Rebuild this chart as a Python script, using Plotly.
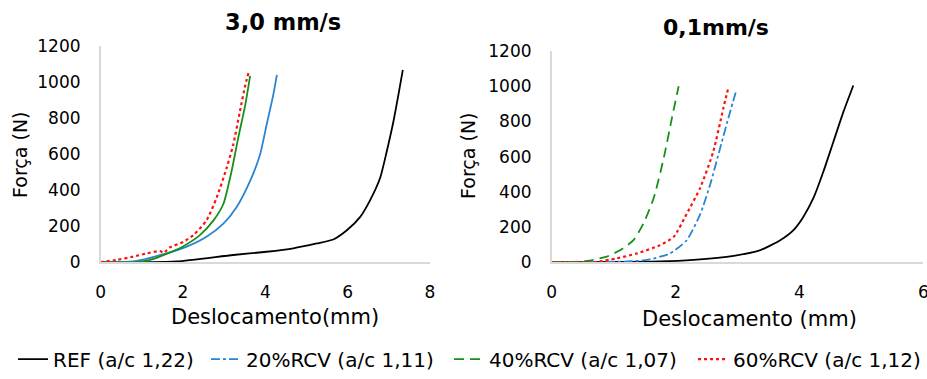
import plotly.graph_objects as go

# ---- data: left panel (3,0 mm/s) ----
ref_a_x = [0, 1.0, 1.85, 3.22, 4.03, 4.68, 5.25, 5.65, 5.98, 6.30, 6.54, 6.79, 6.95, 7.11, 7.23, 7.34]
ref_a_y = [0, 0, 4, 40, 58, 77, 104, 126, 177, 250, 342, 469, 616, 780, 926, 1068]
r20_a_x = [0, 0.79, 1.60, 2.09, 2.57, 2.98, 3.30, 3.63, 3.87, 4.03, 4.19, 4.28]
r20_a_y = [0, 4, 49, 86, 141, 214, 305, 451, 597, 762, 926, 1040]
r40_a_x = [0, 0.79, 1.20, 1.60, 2.01, 2.41, 2.74, 2.98, 3.18, 3.34, 3.51, 3.63]
r40_a_y = [0, 0, 13, 46, 89, 150, 232, 323, 506, 689, 871, 1035]
r60_a_x = [0, 0.39, 0.79, 1.12, 1.44, 1.53, 1.68, 2.01, 2.25, 2.57, 2.82, 3.06, 3.22, 3.38, 3.51, 3.59]
r60_a_y = [0, 13, 31, 49, 62, 52, 82, 113, 150, 232, 360, 524, 652, 835, 981, 1050]

# ---- data: right panel (0,1 mm/s) ----
ref_b_x = [0, 1.75, 2.29, 2.94, 3.37, 3.69, 3.90, 4.06, 4.23, 4.39, 4.55, 4.71, 4.87]
ref_b_y = [0, 4, 13, 36, 69, 125, 181, 256, 368, 518, 686, 854, 1004]
r20_b_x = [0, 1.22, 1.54, 1.91, 2.18, 2.40, 2.56, 2.72, 2.88, 2.98]
r20_b_y = [0, 4, 13, 50, 125, 275, 443, 649, 854, 976]
r40_b_x = [0, 0.57, 0.89, 1.11, 1.32, 1.48, 1.65, 1.81, 1.94, 2.05]
r40_b_y = [0, 7, 32, 69, 125, 219, 368, 593, 817, 1000]
r60_b_x = [0, 0.68, 1.05, 1.38, 1.75, 1.97, 2.18, 2.40, 2.61, 2.77, 2.85]
r60_b_y = [0, 0, 22, 50, 97, 144, 275, 424, 630, 873, 989]

names = ["REF (a/c 1,22)", "20%RCV (a/c 1,11)", "40%RCV (a/c 1,07)", "60%RCV (a/c 1,12)"]
titles = ["3,0 mm/s", "0,1mm/s"]
x_titles = ["Deslocamento(mm)", "Deslocamento (mm)"]
y_title = "Força (N)"

BLACK = "#000000"
BLUE = "#2a84d2"
GREEN = "#189018"
RED = "#ff1010"
FONT = "DejaVu Sans"
W, H = 927, 379

fig = go.Figure()

left = [(ref_a_x, ref_a_y, BLACK, "solid"), (r20_a_x, r20_a_y, BLUE, "solid"),
        (r40_a_x, r40_a_y, GREEN, "solid"), (r60_a_x, r60_a_y, RED, "dot")]
for (x, y, c, d), n in zip(left, names):
    fig.add_trace(go.Scatter(x=x, y=y, mode="lines", name=n, showlegend=False,
                             line=dict(color=c, width=2.2 if d == "dot" else 1.8, dash=d,
                                       shape="spline", smoothing=0.6),
                             xaxis="x", yaxis="y"))

legend_ids = ["legend", "legend2", "legend3", "legend4"]
right = [(ref_b_x, ref_b_y, BLACK, "solid"), (r20_b_x, r20_b_y, BLUE, "dashdot"),
         (r40_b_x, r40_b_y, GREEN, "10px,6px"), (r60_b_x, r60_b_y, RED, "dot")]
for (x, y, c, d), n, lg in zip(right, names, legend_ids):
    fig.add_trace(go.Scatter(x=x, y=y, mode="lines", name=n, showlegend=True, legend=lg,
                             line=dict(color=c, width=2.2 if d == "dot" else 1.8, dash=d,
                                       shape="spline", smoothing=0.6),
                             xaxis="x2", yaxis="y2"))

axis_common = dict(showgrid=False, zeroline=False, showline=True, linecolor="#d9d9d9",
                   linewidth=1.5, ticks="", automargin=False, ticklabeloverflow="allow",
                   tickfont=dict(family=FONT, size=17, color="#000"), fixedrange=True)

legend_x = [13, 206, 449, 693]
legends = {}
for lg, lx in zip(legend_ids, legend_x):
    legends[lg] = dict(orientation="h", x=lx / W, y=(H - 364) / H, xanchor="left", yanchor="middle",
                       font=dict(family=FONT, size=20, color="#000"), itemwidth=30,
                       bgcolor="rgba(0,0,0,0)")


def ann(text, x, y, size, angle=0):
    return dict(text=text, x=x / W, y=(H - y) / H, xref="paper", yref="paper",
                xanchor="center", yanchor="middle", textangle=angle,
                showarrow=False, font=dict(family=FONT, size=size, color="#000"))


fig.update_layout(
    width=W, height=H, autosize=False,
    margin=dict(l=0, r=0, t=0, b=0),
    plot_bgcolor="white", paper_bgcolor="white",
    font=dict(family=FONT, color="#000"),
    xaxis=dict(domain=[100.7 / W, 430 / W], range=[0, 8], dtick=2, anchor="y",
               ticklabelstandoff=14, **axis_common),
    yaxis=dict(domain=[(H - 265.7) / H, (H - 46.7) / H], range=[0, 1200], dtick=200, anchor="x",
               ticklabelstandoff=15, **axis_common),
    xaxis2=dict(domain=[551.7 / W, 923.3 / W], range=[0, 6], dtick=2, anchor="y2",
                ticklabelstandoff=14, **axis_common),
    yaxis2=dict(domain=[(H - 265.7) / H, (H - 51.7) / H], range=[0, 1200], dtick=200, anchor="x2",
                ticklabelstandoff=15, **axis_common),
    annotations=[
        ann("<b>" + titles[0] + "</b>", 283, 22, 22.5),
        ann("<b>" + titles[1] + "</b>", 716, 28, 22),
        ann(x_titles[0], 275, 321, 21),
        ann(x_titles[1], 749, 323, 21),
        ann(y_title, 20, 157, 19, -90),
        ann(y_title, 468, 158, 19, -90),
    ],
    **legends,
)

fig.write_html("out.html", config={"displayModeBar": False},
               post_script="document.body.style.margin='0';document.body.style.overflow='hidden';")
